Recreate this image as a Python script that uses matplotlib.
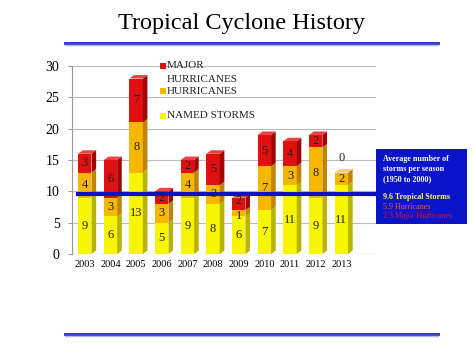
import matplotlib
matplotlib.use("Agg")
import matplotlib.pyplot as plt
from matplotlib.patches import Polygon, Rectangle
import numpy as np

years = ["2003", "2004", "2005", "2006", "2007", "2008", "2009", "2010", "2011", "2012", "2013"]
named_storms = [9, 6, 13, 5, 9, 8, 6, 7, 11, 9, 11]
hurricanes = [4, 3, 8, 3, 4, 3, 1, 7, 3, 8, 2]
major_hurricanes = [3, 6, 7, 2, 2, 5, 2, 5, 4, 2, 0]
avg_storms = 9.6
yticks = [0, 5, 10, 15, 20, 25, 30]

plt.rcParams['font.family'] = ['Liberation Serif', 'DejaVu Serif']

fig = plt.figure(figsize=(4.74, 3.55), dpi=100)
W, H = 474, 355
ax = fig.add_axes([72 / W, (H - 254) / H, (376 - 72) / W, (254 - 66) / H])

x = np.arange(len(years))
bw = 0.52
dx, dy = 0.18, 0.55

front = {"y": "#F7F500", "o": "#F5B700", "r": "#E01010"}
side = {"y": "#B8B400", "o": "#C08400", "r": "#A00808"}
top = {"y": "#FFFF80", "o": "#FFD060", "r": "#F04040"}

for i in x:
    base = 0
    segs = [(named_storms[i], "y"), (hurricanes[i], "o"), (major_hurricanes[i], "r")]
    last = None
    shift = 0.0
    for val, c in segs:
        if val <= 0:
            continue
        ax.add_patch(Rectangle((i - bw / 2, base), bw, val, facecolor=front[c], edgecolor='none', zorder=3))
        ax.add_patch(Polygon([(i + bw / 2, base), (i + bw / 2 + dx, base + dy),
                              (i + bw / 2 + dx, base + val + dy), (i + bw / 2, base + val)],
                             closed=True, facecolor=side[c], edgecolor='none', zorder=3))
        ypos = base + val / 2 + shift
        shift = 0.0
        if val <= 1:
            ypos -= 0.5
            shift = 0.4
        ax.text(i, ypos, str(val), ha='center', va='center', fontsize=9, color='#222222', zorder=5)
        base += val
        last = c
    ax.add_patch(Polygon([(i - bw / 2, base), (i - bw / 2 + dx, base + dy),
                          (i + bw / 2 + dx, base + dy), (i + bw / 2, base)],
                         closed=True, facecolor=top[last], edgecolor='none', zorder=3))
    if major_hurricanes[i] == 0:
        ax.text(i, base + 2.3, "0", ha='center', va='center', fontsize=9, color='#222222', zorder=5)

ax.set_xlim(-0.5, 11.35)
ax.set_ylim(0, 30)
ax.set_yticks(yticks)
ax.set_yticklabels([str(t) for t in yticks], fontsize=10)
ax.set_xticks(x)
ax.set_xticklabels(years, fontsize=7.5)
ax.tick_params(axis='x', length=0, pad=4)
ax.tick_params(axis='y', length=3, color='#999999', pad=6)
for s in ['top', 'right', 'bottom']:
    ax.spines[s].set_visible(False)
ax.spines['left'].set_color('#999999')
ax.yaxis.grid(True, color='#BBBBBB', linewidth=0.8, zorder=0)
ax.set_axisbelow(True)
ax.axhline(0, color='#BBBBBB', linewidth=0.8, zorder=1)

ax.axhline(avg_storms, color='#1010C0', linewidth=3, zorder=4, xmin=0.02, xmax=1.0)

# Legend
lx = 160 / W
fs = 8
items = [("MAJOR", front["r"], 66), ("HURRICANES", None, 79), ("HURRICANES", front["o"], 91),
         ("NAMED STORMS", front["y"], 116)]
for label, col, yp in items:
    yy = (H - yp) / H
    if col is not None:
        fig.patches.append(Rectangle((lx, yy - 3 / H), 6 / W, 6 / H, transform=fig.transFigure,
                                     facecolor=col, edgecolor='none', figure=fig))
    fig.text(lx + 7 / W, yy, label, fontsize=fs, va='center', ha='left', color='#222222')

# Blue info box
fig.patches.append(Rectangle((376 / W, (H - 224) / H), 91 / W, 75 / H, transform=fig.transFigure,
                             facecolor='#0A14C8', edgecolor='none', figure=fig))
bx = 383 / W
bfs = 5.8
fig.text(bx, (H - 159) / H, "Average number of", fontsize=bfs, fontweight='bold', color='white', va='center')
fig.text(bx, (H - 169) / H, "storms per season", fontsize=bfs, fontweight='bold', color='white', va='center')
fig.text(bx, (H - 179) / H, "(1950 to 2000)", fontsize=bfs, fontweight='bold', color='white', va='center')
fig.text(bx, (H - 197) / H, "9.6 Tropical Storms", fontsize=bfs, fontweight='bold', color='#FFFF50', va='center')
fig.text(bx, (H - 207) / H, "5.9 Hurricanes", fontsize=bfs, color='#F06030', va='center')
fig.text(bx, (H - 216) / H, "2.3 Major Hurricanes", fontsize=bfs, color='#E01030', va='center')

# Title and decorative lines
fig.text(242 / W, (H - 24) / H, "Tropical Cyclone History", fontsize=17.5, ha='center', va='center', color='black')
for yl in (43, 334):
    fig.lines.append(plt.Line2D([65 / W, 438 / W], [(H - yl) / H] * 2, transform=fig.transFigure,
                                color='#3A3FC0', linewidth=2.2, figure=fig))
    fig.lines.append(plt.Line2D([65 / W, 438 / W], [(H - yl - 2) / H] * 2, transform=fig.transFigure,
                                color='#B0B4E0', linewidth=1, figure=fig))

fig.savefig("out.png", dpi=100)
